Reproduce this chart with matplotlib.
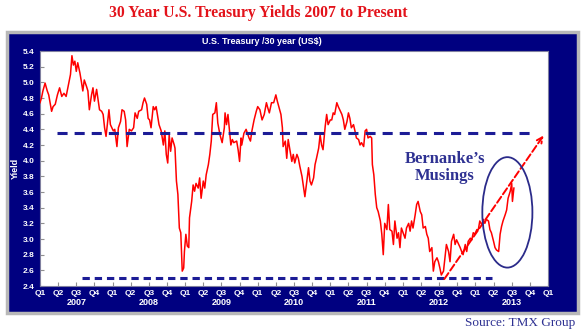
import matplotlib.pyplot as plt
from matplotlib.patches import Rectangle, Ellipse

# 30 year yield (decimal year, %)
years = [
    2007.00, 2007.02, 2007.04, 2007.07, 2007.10, 2007.12, 2007.16, 2007.18, 2007.21, 2007.24,
    2007.27, 2007.30, 2007.33, 2007.36, 2007.40, 2007.42, 2007.44, 2007.46, 2007.48, 2007.50,
    2007.52, 2007.55, 2007.57, 2007.59, 2007.61, 2007.64, 2007.66, 2007.68, 2007.71, 2007.73,
    2007.75, 2007.78, 2007.80, 2007.82, 2007.85, 2007.87, 2007.89, 2007.91, 2007.95, 2007.97,
    2008.01, 2008.03, 2008.06, 2008.08, 2008.11, 2008.13, 2008.16, 2008.18, 2008.20, 2008.23,
    2008.26, 2008.29, 2008.31, 2008.34, 2008.36, 2008.40, 2008.42, 2008.44, 2008.47, 2008.49,
    2008.51, 2008.53, 2008.56, 2008.58, 2008.60, 2008.64, 2008.67, 2008.70, 2008.72, 2008.74,
    2008.76, 2008.78, 2008.80, 2008.82, 2008.85, 2008.86, 2008.88, 2008.90, 2008.92, 2008.94,
    2008.96, 2008.98, 2008.99, 2009.01, 2009.03, 2009.05, 2009.06, 2009.09, 2009.11, 2009.13,
    2009.15, 2009.18, 2009.20, 2009.22, 2009.25, 2009.27, 2009.29, 2009.32, 2009.34, 2009.36,
    2009.38, 2009.41, 2009.43, 2009.45, 2009.48, 2009.51, 2009.54, 2009.55, 2009.57, 2009.59,
    2009.61, 2009.63, 2009.65, 2009.67, 2009.71, 2009.73, 2009.75, 2009.77, 2009.78, 2009.81,
    2009.84, 2009.88, 2009.90, 2009.92, 2009.95, 2009.98, 2010.00, 2010.03, 2010.06, 2010.09,
    2010.12, 2010.14, 2010.16, 2010.19, 2010.22, 2010.25, 2010.27, 2010.29, 2010.32, 2010.34,
    2010.35, 2010.38, 2010.40, 2010.42, 2010.44, 2010.47, 2010.49, 2010.51, 2010.54, 2010.56,
    2010.58, 2010.61, 2010.63, 2010.65, 2010.67, 2010.70, 2010.72, 2010.74, 2010.77, 2010.79,
    2010.81, 2010.84, 2010.86, 2010.88, 2010.90, 2010.93, 2010.95, 2010.97, 2011.00, 2011.02,
    2011.04, 2011.06, 2011.09, 2011.11, 2011.13, 2011.16, 2011.18, 2011.20, 2011.23, 2011.25,
    2011.27, 2011.29, 2011.32, 2011.34, 2011.36, 2011.39, 2011.41, 2011.43, 2011.46, 2011.48,
    2011.50, 2011.52, 2011.55, 2011.57, 2011.58, 2011.60, 2011.62, 2011.64, 2011.66, 2011.69,
    2011.71, 2011.73, 2011.75, 2011.78, 2011.80, 2011.82, 2011.85, 2011.87, 2011.89, 2011.92,
    2011.94, 2011.96, 2011.98, 2012.01, 2012.03, 2012.05, 2012.08, 2012.10, 2012.12, 2012.14,
    2012.17, 2012.19, 2012.21, 2012.24, 2012.26, 2012.28, 2012.31, 2012.33, 2012.35, 2012.37,
    2012.40, 2012.42, 2012.44, 2012.47, 2012.49, 2012.51, 2012.53, 2012.56, 2012.58, 2012.60,
    2012.63, 2012.65, 2012.67, 2012.70, 2012.72, 2012.74, 2012.76, 2012.79, 2012.81, 2012.83,
    2012.86, 2012.88, 2012.90, 2012.93, 2012.95, 2012.97, 2012.99, 2013.02, 2013.04, 2013.06,
    2013.09, 2013.11, 2013.13, 2013.15, 2013.18, 2013.20, 2013.22, 2013.25, 2013.27, 2013.29,
    2013.32, 2013.34, 2013.36, 2013.38, 2013.41, 2013.43, 2013.45, 2013.48, 2013.50, 2013.51,
    2013.53]
yields = [
    4.74, 4.80, 4.89, 4.99, 4.89, 4.84, 4.63, 4.69, 4.72, 4.84,
    4.93, 4.82, 4.86, 4.82, 5.01, 5.10, 5.34, 5.22, 5.27, 5.14,
    5.25, 5.12, 5.01, 4.89, 5.03, 4.95, 4.89, 4.65, 4.84, 4.93,
    4.76, 4.91, 4.78, 4.65, 4.63, 4.59, 4.42, 4.31, 4.65, 4.46,
    4.38, 4.40, 4.18, 4.42, 4.50, 4.65, 4.63, 4.52, 4.18, 4.40,
    4.38, 4.42, 4.61, 4.54, 4.63, 4.65, 4.74, 4.80, 4.72, 4.54,
    4.52, 4.42, 4.69, 4.65, 4.69, 4.46, 4.38, 4.20, 4.38, 4.08,
    3.97, 4.33, 4.12, 4.29, 4.20, 4.16, 3.74, 3.57, 3.14, 3.08,
    2.59, 2.63, 2.84, 3.06, 2.91, 2.89, 3.27, 3.48, 3.69, 3.61,
    3.71, 3.65, 3.78, 3.52, 3.74, 3.65, 3.82, 3.95, 4.08, 4.25,
    4.59, 4.61, 4.74, 4.48, 4.33, 4.23, 4.42, 4.61, 4.46, 4.59,
    4.40, 4.20, 4.27, 4.23, 4.25, 4.14, 3.99, 4.29, 4.20, 4.35,
    4.40, 4.29, 4.25, 4.38, 4.52, 4.63, 4.69, 4.65, 4.52, 4.59,
    4.74, 4.67, 4.61, 4.74, 4.74, 4.84, 4.76, 4.69, 4.59, 4.42,
    4.18, 4.25, 4.03, 4.27, 4.16, 3.99, 4.08, 3.97, 4.08, 4.03,
    3.93, 3.80, 3.67, 3.54, 3.69, 3.91, 3.74, 3.69, 3.78, 3.95,
    4.03, 4.16, 4.33, 4.20, 4.14, 4.44, 4.59, 4.46, 4.52, 4.52,
    4.61, 4.59, 4.74, 4.69, 4.65, 4.59, 4.52, 4.40, 4.50, 4.61,
    4.54, 4.42, 4.46, 4.38, 4.29, 4.27, 4.20, 4.23, 4.18, 4.38,
    4.40, 4.29, 4.31, 4.29, 3.95, 3.82, 3.57, 3.40, 3.35, 3.23,
    3.06, 2.80, 3.20, 3.12, 3.44, 3.12, 3.10, 2.93, 3.23, 3.01,
    3.08, 2.89, 3.14, 3.06, 3.01, 3.14, 3.20, 3.10, 3.23, 3.14,
    3.31, 3.44, 3.48, 3.35, 3.31, 3.14, 3.16, 3.06, 3.01, 2.84,
    2.89, 2.59, 2.71, 2.76, 2.71, 2.63, 2.54, 2.59, 2.76, 2.93,
    2.84, 2.71, 2.97, 3.06, 2.93, 2.99, 2.95, 2.89, 2.84, 2.80,
    2.93, 2.84, 2.97, 3.01, 2.99, 3.08, 3.06, 3.12, 3.12, 3.23,
    3.18, 3.25, 3.20, 3.25, 3.23, 3.12, 3.08, 2.97, 2.89, 2.86,
    2.84, 3.06, 3.16, 3.23, 3.31, 3.37, 3.52, 3.61, 3.71, 3.48,
    3.65]

quarters = ['Q1', 'Q2', 'Q3', 'Q4']
year_labels = ['2007', '2008', '2009', '2010', '2011', '2012', '2013']

navy = '#000080'
blue = '#1c1c96'

fig = plt.figure(figsize=(5.85, 3.32), dpi=100)
W, H = 585, 332

# dark panel with grey frame
fig.patches.append(Rectangle((7 / W, 1 - 313 / H), 571 / W, 281 / H,
                             transform=fig.transFigure, facecolor=navy,
                             edgecolor='#b8b8b8', linewidth=2.5, zorder=-1))

ax = fig.add_axes([40 / W, 1 - 286 / H, 508 / W, 235 / H])
ax.set_zorder(1)
ax.plot(years, yields, color='#ff0000', lw=1.1, zorder=3)

ax.set_xlim(2007, 2014)
ax.set_ylim(2.4, 5.4)
ax.set_yticks([2.4 + 0.2 * i for i in range(16)])
ax.set_yticklabels(['%.1f' % (2.4 + 0.2 * i) for i in range(16)])
ax.set_xticks([2007 + 0.25 * i for i in range(29)])
ax.set_xticklabels([quarters[i % 4] for i in range(29)])
ax.tick_params(direction='in', length=3, color='#909090', labelcolor='white',
               labelsize=6)
ax.tick_params(axis='x', pad=3)
ax.tick_params(axis='y', pad=4)
for lab in ax.get_xticklabels() + ax.get_yticklabels():
    lab.set_fontweight('bold')
    lab.set_fontfamily('Liberation Sans')
for s in ax.spines.values():
    s.set_color('#8080a0')
    s.set_linewidth(0.8)

for i, y in enumerate(year_labels):
    ax.text(2007.5 + i, -0.072, y, transform=ax.get_xaxis_transform(),
            ha='center', va='center', color='white', fontsize=6.5,
            fontweight='bold', family='Liberation Sans')

ax.set_ylabel('Yield', color='white', fontsize=6.5, fontweight='bold',
              family='Liberation Sans')
ax.yaxis.set_label_coords(-20 / 508, 0.5)

# support / resistance lines
ax.plot([2007.23, 2013.82], [4.35, 4.35], color=blue, lw=2.2,
        dashes=(3.3, 2.3), zorder=4)
ax.plot([2007.58, 2013.23], [2.5, 2.5], color=blue, lw=2.2,
        dashes=(2.4, 1.6), zorder=4)

# trend arrow
ax.annotate('', xy=(2013.96, 4.35), xytext=(2012.55, 2.46),
            arrowprops=dict(arrowstyle='->', color='#ff0000', lw=1.4,
                            linestyle='--', mutation_scale=10), zorder=5)

ax.add_patch(Ellipse((2013.44, 3.34), 0.69, 1.41, fill=False,
                     edgecolor='#2b2b8a', lw=1.3, zorder=5))
ax.text(2012.58, 3.91, 'Bernanke\u2019s\nMusings', ha='center', va='center',
        color='#2e3192', fontsize=12, fontweight='bold',
        family='Liberation Serif', linespacing=1.1, zorder=6)

fig.text(258 / W, 1 - 13 / H, '30 Year U.S. Treasury Yields 2007 to Present',
         ha='center', va='center', color='#e3131b', fontsize=11.3,
         fontweight='bold', family='Liberation Serif')
fig.text(262 / W, 1 - 42 / H, 'U.S. Treasury /30 year (US$)', ha='center',
         va='center', color='white', fontsize=6.5, fontweight='bold',
         family='Liberation Sans')
fig.text(575 / W, 1 - 323 / H, 'Source: TMX Group', ha='right', va='center',
         color='#2e3192', fontsize=9.5, family='Liberation Serif')

fig.savefig('out.png', dpi=100)
